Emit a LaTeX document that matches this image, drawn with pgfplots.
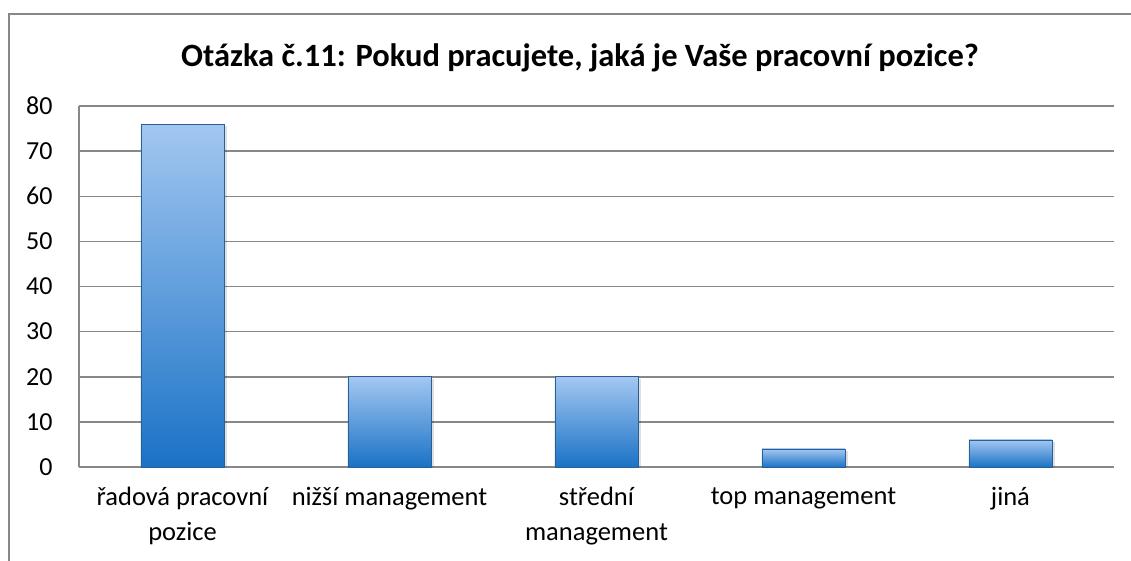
\documentclass[border=0pt]{standalone}
\usepackage{fontspec}
\setmainfont{Carlito}
\usepackage{pgfplots}
\pgfplotsset{compat=1.18}
\definecolor{gridgray}{HTML}{878787}
\definecolor{bartop}{HTML}{A3C7F1}
\definecolor{barmid}{HTML}{6EA8E4}
\definecolor{barbot}{HTML}{1A72C6}
\definecolor{baredge}{HTML}{2A5F96}
\begin{document}
\begin{tikzpicture}[x=1pt,y=1pt]
\useasboundingbox (0,0) rectangle (1131,560);
\fill[white] (0,0) rectangle (1131,560);
\draw[line width=2pt, color=gridgray] (9,-20) rectangle (1150,546);
\node[font=\fontsize{32.5}{36}\selectfont\bfseries] at (580,502) {Otázka č.11: Pokud pracujete, jaká je Vaše pracovní pozice?};
\begin{axis}[
  at={(79pt,93pt)}, anchor=south west,
  scale only axis, width=1035pt, height=361pt,
  ymin=0, ymax=80, ytick={0,10,...,80},
  xmin=-0.5, xmax=4.5, xtick={0,1,2,3,4},
  xticklabels={{řadová pracovní\\pozice},{nižší management},{střední\\management},{top management},{jiná}},
  xticklabel style={align=center, font=\fontsize{26.5}{35}\selectfont, yshift=-17pt},
  yticklabel style={font=\fontsize{26}{30}\selectfont, xshift=-23pt},
  /pgf/number format/assume math mode=true,
  major tick length=0pt,
  ymajorgrids, grid style={gridgray, line width=1.5pt},
  axis x line*=bottom, axis y line*=left,
  axis line style={gridgray, line width=1.5pt},
  ybar, bar width=83pt,
  mybar/.style={bar shift=0pt, draw=baredge, line width=0.6pt, top color=bartop, middle color=barmid, bottom color=barbot},
  shadowbar/.style={bar shift=3pt, draw=none, fill=black, fill opacity=0.12},
]
\addplot[shadowbar] coordinates {(0,75.5) (1,19.5) (2,19.5) (3,3.5) (4,5.5)};
\addplot[mybar] coordinates {(0,76)};
\addplot[mybar] coordinates {(1,20)};
\addplot[mybar] coordinates {(2,20)};
\addplot[mybar] coordinates {(3,4)};
\addplot[mybar] coordinates {(4,6)};
\end{axis}
\end{tikzpicture}
\end{document}
